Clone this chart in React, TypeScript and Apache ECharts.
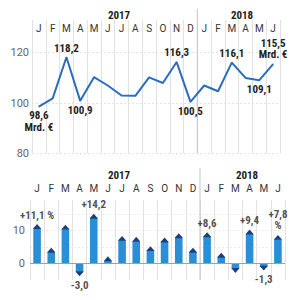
import React, { useEffect, useRef } from "react";
import * as echarts from "echarts";

const periods = ["2017-01","2017-02","2017-03","2017-04","2017-05","2017-06","2017-07","2017-08","2017-09","2017-10","2017-11","2017-12","2018-01","2018-02","2018-03","2018-04","2018-05","2018-06"];
const monthLetters = ["J","F","M","A","M","J","J","A","S","O","N","D","J","F","M","A","M","J"];
const exportsBn = [98.6, 101.9, 118.2, 100.9, 110.3, 107.0, 103.0, 102.9, 110.2, 108.0, 116.3, 100.5, 107.0, 104.7, 116.1, 110.0, 109.1, 115.5];
const growthPct = [11.1, 3.9, 10.9, -3.0, 14.2, 1.3, 7.5, 7.2, 4.4, 7.0, 8.3, 3.9, 8.6, 2.4, -2.0, 9.4, -1.3, 7.8];
const exportLabelIdx = [0, 2, 3, 10, 11, 14, 16, 17];
const exportLabelPos = ["bottom", "top", "bottom", "top", "bottom", "top", "bottom", "top"];
const growthLabelIdx = [0, 3, 4, 12, 15, 16, 17];
const yearLabels = ["2017", "2018"];
const topYTicks = [80, 100, 120];
const bottomYTicks = [0, 10];

const BOLD_FONT = "'Roboto Condensed', 'Liberation Sans Narrow', 'DejaVu Sans Condensed', Roboto, sans-serif";
const FONT = "Roboto, 'Noto Sans', sans-serif";

const fmt = (v: number) => v.toFixed(1).replace(".", ",");

export default function App() {
  const ref = useRef<HTMLDivElement>(null);
  useEffect(() => {
    if (!ref.current) return;
    const chart = echarts.init(ref.current, null, { renderer: "svg" });

    const lineData = exportsBn.map((v, i) => {
      const k = exportLabelIdx.indexOf(i);
      if (k < 0) return v;
      const last = i === 0 || i === exportsBn.length - 1;
      return {
        value: v,
        label: {
          show: true,
          position: exportLabelPos[k],
          distance: 3,
          formatter: last ? fmt(v) + "\nMrd. €" : fmt(v),
        },
      };
    });

    const growthLabelData = growthLabelIdx.map((i, k) => {
      const v = growthPct[i];
      const s = (v > 0 ? "+" : "") + fmt(v);
      let text = s;
      if (k === 0) text = s + " %";
      if (k === growthLabelIdx.length - 1) text = s + "\n%";
      return {
        value: [i, v],
        label: { show: true, position: v >= 0 ? "top" : "bottom", distance: 6, formatter: text },
      };
    });

    const xCommon = {
      type: "category",
      data: periods,
      boundaryGap: true,
      axisLine: { show: false },
      axisTick: { show: false },
      splitLine: { show: true, lineStyle: { color: "#e2e2e2", width: 1 } },
    };

    chart.setOption({
      animation: false,
      grid: [
        { left: 32, right: 20, top: 20, bottom: 146.5 },
        { left: 30, right: 15, top: 200, bottom: 20 },
      ],
      xAxis: [
        {
          ...xCommon,
          gridIndex: 0,
          position: "top",
          axisLabel: {
            inside: true,
            margin: 3,
            interval: 0,
            fontSize: 10,
            fontFamily: FONT,
            color: "#333",
            formatter: (_: string, i: number) => monthLetters[i],
          },
        },
        {
          ...xCommon,
          gridIndex: 1,
          position: "top",
          axisLabel: {
            margin: 7,
            interval: 0,
            fontSize: 10,
            fontFamily: FONT,
            color: "#333",
            formatter: (_: string, i: number) => monthLetters[i],
          },
        },
      ],
      yAxis: [
        {
          type: "value",
          gridIndex: 0,
          min: 80,
          max: 133,
          interval: 20,
          axisLine: { show: false },
          axisTick: { show: false },
          axisLabel: {
            margin: 3,
            fontSize: 11,
            fontFamily: FONT,
            color: "#666",
            showMaxLabel: false,
            formatter: (v: number) => (topYTicks.includes(v) ? String(v) : ""),
          },
          splitLine: { show: true, showMaxLine: false, lineStyle: { color: "#e4e4e4", type: [2, 2] } },
        },
        {
          type: "value",
          gridIndex: 1,
          min: -5,
          max: 19.2,
          interval: 5,
          axisLine: { show: false },
          axisTick: { show: false },
          axisLabel: {
            margin: 5,
            fontSize: 11,
            fontFamily: FONT,
            color: "#666",
            showMaxLabel: false,
            showMinLabel: false,
            formatter: (v: number) => (bottomYTicks.includes(v) ? String(v) : ""),
          },
          splitLine: { show: true, showMaxLine: false, showMinLine: false, lineStyle: { color: "#ececec", type: [2, 2] } },
        },
      ],
      series: [
        {
          type: "line",
          xAxisIndex: 0,
          yAxisIndex: 0,
          data: lineData,
          symbol: "circle",
          symbolSize: 1,
          showSymbol: true,
          lineStyle: { color: "#2a6dbf", width: 2 },
          itemStyle: { color: "#2a6dbf" },
          label: {
            fontFamily: BOLD_FONT,
            fontWeight: "bold",
            fontSize: 11,
            lineHeight: 11.5,
            color: "#222",
          },
          z: 5,
        },
        {
          type: "custom",
          xAxisIndex: 1,
          yAxisIndex: 1,
          data: growthPct.map((v, i) => [i, v]),
          renderItem: (params: any, api: any) => {
            const idx = api.value(0);
            const v = api.value(1);
            const end = api.coord([idx, v]);
            const base = api.coord([idx, 0]);
            const w = 7.6;
            const dir = v >= 0 ? -1 : 1;
            const x0 = end[0] - w / 2;
            const capBase = end[1] - dir * 1.5;
            const apex = end[1] + dir * 2.8;
            return {
              type: "group",
              children: [
                {
                  type: "rect",
                  shape: { x: x0, y: Math.min(base[1], capBase), width: w, height: Math.abs(capBase - base[1]) },
                  style: { fill: "#2a8fd6" },
                },
                {
                  type: "polygon",
                  shape: {
                    points: [
                      [x0, capBase - dir * 0.6],
                      [x0, capBase],
                      [end[0], apex],
                      [x0 + w, capBase],
                      [x0 + w, capBase - dir * 0.6],
                    ],
                  },
                  style: { fill: "#1c3f7d" },
                },
              ],
            };
          },
          z: 3,
        },
        {
          type: "scatter",
          xAxisIndex: 1,
          yAxisIndex: 1,
          data: growthLabelData,
          symbolSize: 0,
          itemStyle: { color: "transparent" },
          label: {
            fontFamily: BOLD_FONT,
            fontWeight: "bold",
            fontSize: 11,
            lineHeight: 11.5,
            color: "#222",
          },
          markLine: {
            silent: true,
            symbol: "none",
            label: { show: false },
            lineStyle: { color: "#e8808a", width: 1, type: "solid" },
            data: [{ yAxis: 0 }],
          },
          z: 6,
        },
      ],
    });

    const topDiv = (chart.convertToPixel({ xAxisIndex: 0 }, 11) + chart.convertToPixel({ xAxisIndex: 0 }, 12)) / 2;
    const botDiv = (chart.convertToPixel({ xAxisIndex: 1 }, 11) + chart.convertToPixel({ xAxisIndex: 1 }, 12)) / 2;
    const yearStyle = { fontFamily: BOLD_FONT, fontWeight: "bold", fontSize: 11, fill: "#222", align: "center", verticalAlign: "middle" };

    chart.setOption({
      graphic: [
        { type: "line", shape: { x1: topDiv, y1: 9, x2: topDiv, y2: 153 }, style: { stroke: "#c4c4c4", lineWidth: 1 }, z: 1 },
        { type: "line", shape: { x1: botDiv, y1: 168, x2: botDiv, y2: 280 }, style: { stroke: "#c4c4c4", lineWidth: 1 }, z: 1 },
        { type: "text", x: 119, y: 15, style: { ...yearStyle, text: yearLabels[0] } },
        { type: "text", x: 242, y: 15, style: { ...yearStyle, text: yearLabels[1] } },
        { type: "text", x: 119, y: 175, style: { ...yearStyle, text: yearLabels[0] } },
        { type: "text", x: 247, y: 175, style: { ...yearStyle, text: yearLabels[1] } },
      ],
    });

    return () => chart.dispose();
  }, []);

  return <div ref={ref} style={{ width: 300, height: 300, position: "absolute", left: 0, top: 0 }} />;
}
